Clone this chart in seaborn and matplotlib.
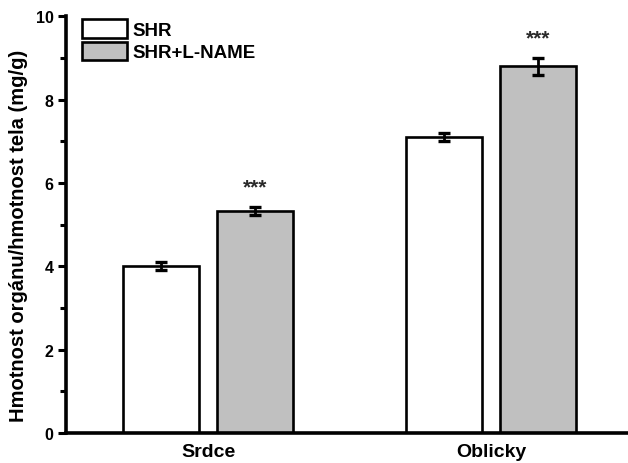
import matplotlib
matplotlib.use("Agg")
import matplotlib.pyplot as plt
import seaborn as sns
import pandas as pd

# Organ weight normalised to body weight
organs = ["Srdce", "Oblicky"]
groups = ["SHR", "SHR+L-NAME"]
shr_mean = [4.0, 7.1]
shr_err = [0.1, 0.1]
lname_mean = [5.32, 8.8]
lname_err = [0.1, 0.2]
significance = ["***", "***"]

df = pd.DataFrame({
    "organ": organs * 2,
    "group": [groups[0]] * 2 + [groups[1]] * 2,
    "value": shr_mean + lname_mean,
})
errors = {groups[0]: shr_err, groups[1]: lname_err}

sns.set_style("ticks")
plt.rcParams["font.family"] = ["Liberation Sans", "DejaVu Sans"]
plt.rcParams["font.weight"] = "bold"
for key in ["text.color", "axes.labelcolor", "xtick.color", "ytick.color",
            "axes.edgecolor"]:
    plt.rcParams[key] = "black"

fig = plt.figure(figsize=(6.28, 4.64), dpi=100)
ax = fig.add_axes([0.105, 0.065, 0.895, 0.898])

sns.barplot(data=df, x="organ", y="value", hue="group", order=organs,
            hue_order=groups, palette={groups[0]: "white", groups[1]: "#c0c0c0"},
            edgecolor="black", linewidth=1.9, width=0.667, gap=0.2,
            errorbar=None, saturation=1, ax=ax)

# Error bars and significance marks on top of each bar
for grp, cont in zip(groups, ax.containers):
    for i, bar in enumerate(cont):
        cx = bar.get_x() + bar.get_width() / 2
        h = bar.get_height()
        e = errors[grp][i]
        ax.errorbar(cx, h, yerr=e, fmt="none", ecolor="black",
                    elinewidth=2.0, capsize=4.5, capthick=2.4, zorder=5)
        if grp == groups[1]:
            ax.text(cx, h + e + 0.26, significance[i], ha="center",
                    va="bottom", fontsize=15, fontweight="bold", color="#2a2a2a")

ax.set_xlim(-0.502, 1.484)
ax.set_ylim(0, 10)
ax.set_yticks([0, 2, 4, 6, 8, 10])
ax.set_yticks([1, 3, 5, 7, 9], minor=True)
ax.tick_params(axis="y", which="major", length=6, width=2.2, labelsize=11.5,
               pad=3)
ax.tick_params(axis="y", which="minor", length=4, width=2.2)
ax.tick_params(axis="x", length=0, labelsize=14, pad=7)
for lab in ax.get_xticklabels() + ax.get_yticklabels():
    lab.set_fontweight("bold")

ax.set_xlabel("")
ax.set_ylabel("Hmotnost orgánu/hmotnost tela (mg/g)", fontsize=14.5,
              fontweight="bold")
ax.yaxis.set_label_coords(-0.067, 0.475)

sns.despine(ax=ax)
ax.spines["left"].set_linewidth(2.6)
ax.spines["bottom"].set_linewidth(2.6)

leg = ax.legend(loc="upper left", bbox_to_anchor=(0.029, 0.993), frameon=False,
                borderpad=0, borderaxespad=0, handlelength=2.4,
                handleheight=1.15, handletextpad=0.3, labelspacing=0.15,
                prop={"size": 13.5, "weight": "bold"})
for patch in leg.get_patches():
    patch.set_linewidth(1.9)

fig.savefig("out.png", dpi=100)
